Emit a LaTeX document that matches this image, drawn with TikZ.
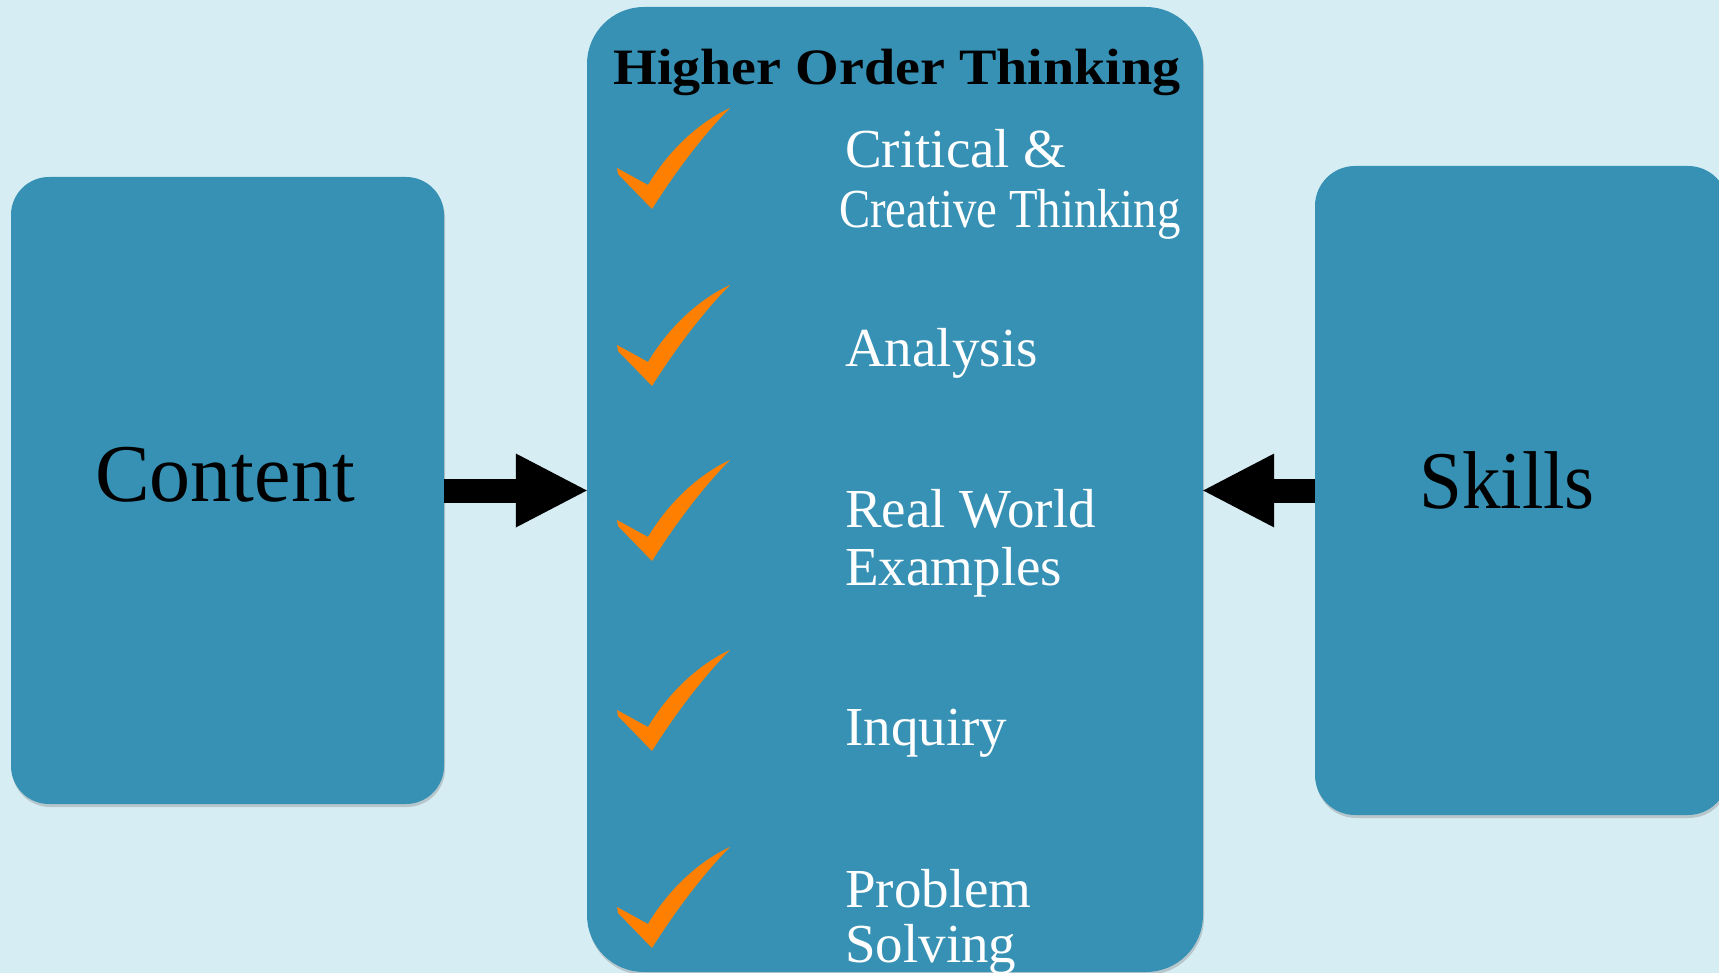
\documentclass[tikz,border=0pt]{standalone}
\usepackage{fontspec}
\setmainfont{Liberation Serif}
\usetikzlibrary{arrows.meta,shadows}
\definecolor{bgblue}{RGB}{214,237,244}
\definecolor{boxblue}{RGB}{54,145,180}
\definecolor{tickorange}{RGB}{255,128,0}
\begin{document}
\begin{tikzpicture}[x=1pt,y=-1pt,
    bluebox/.style={fill=boxblue, rounded corners=#1, inner sep=0pt,
        drop shadow={shadow xshift=1pt, shadow yshift=-3pt, opacity=0.35}},
    bigword/.style={font=\fontsize{82}{90}\selectfont, text=black, anchor=base, inner sep=0pt},
    item/.style={font=\fontsize{55}{60}\selectfont, text=white, anchor=base west, inner sep=0pt},
    fatarrow/.style={draw=black, line width=24pt, -{Triangle[length=71pt,width=74pt,line width=0pt]}}
    ]
    \useasboundingbox (0,0) rectangle (1719,973);
    \clip (0,0) rectangle (1719,973);
    \fill[bgblue] (0,0) rectangle (1719,973);

    \node[bluebox=38pt, minimum width=433pt, minimum height=627pt] (content) at (227.5,490.5) {};
    \node[bluebox=57pt, minimum width=616pt, minimum height=965pt] (hot) at (895,489.5) {};
    \node[bluebox=40pt, minimum width=413pt, minimum height=649pt] (skills) at (1521.5,490.5) {};

    \draw[fatarrow] (content.east) -- (content.east -| hot.west);
    \draw[fatarrow] (skills.west) -- (skills.west -| hot.east);

    %% checks
    \foreach \t in {108,285,460,650,847}{
    \fill[tickorange, shift={(617,\t)}] (0,60) -- (31,77) .. controls (50,45) and (80,15) .. (113,0) .. controls (93,20) and (64,55) .. (35,101) -- (1,66) -- cycle;
    }

    \node[font=\bfseries\fontsize{51}{56}\selectfont, anchor=base, inner sep=0pt] (title) at (897,85) {\scalebox{1.1}[1]{Higher Order Thinking}};
    \node[bigword] (contentlbl) at (225,501) {Content};
    \node[bigword] (skillslbl) at (1507,508) {\scalebox{0.94}[1]{Skills}};

    \node[item] (critical) at (845,168) {Critical \&};
    \node[item] (creative) at (839,228) {\scalebox{0.85}[1]{Creative Thinking}};
    \node[item] (analysis) at (845,367) {Analysis};
    \node[item] (realworld) at (845,527) {Real World};
    \node[item] (examples) at (845,585) {Examples};
    \node[item] (inquiry) at (845,745) {Inquiry};
    \node[item] (problem) at (845,907) {Problem};
    \node[item] (solving) at (845,962) {Solving};
\end{tikzpicture}
\end{document}
